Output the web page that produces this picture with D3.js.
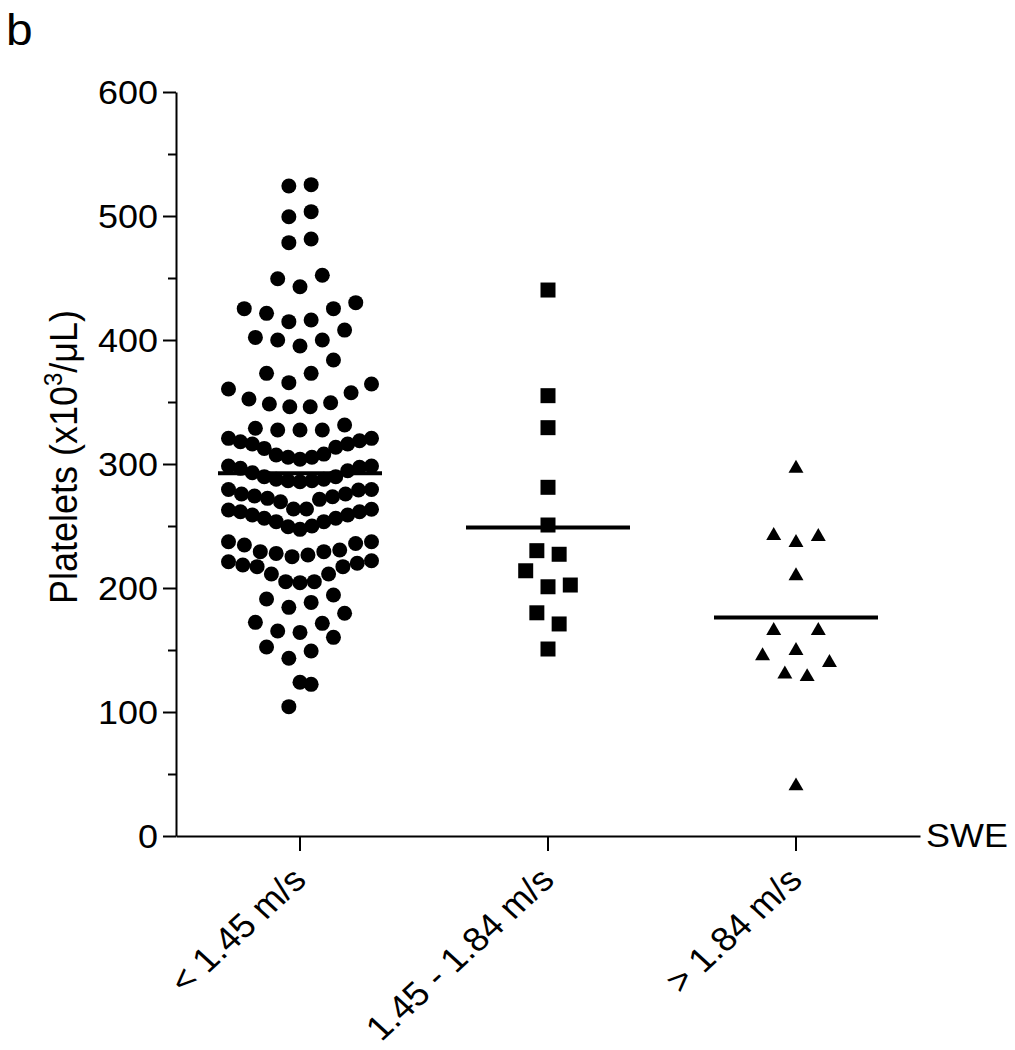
<!DOCTYPE html>
<html>
<head>
<meta charset="utf-8">
<script src="https://cdn.jsdelivr.net/npm/d3@7"></script>
<style>
  html, body { margin: 0; padding: 0; background: #fff; }
  svg { display: block; }
  text { font-family: "Liberation Sans", Arial, Helvetica, sans-serif; fill: #000; }
</style>
</head>
<body>
<svg id="chart" width="1015" height="1050"></svg>
<script>
// ---------------- data ----------------
const categories = ["< 1.45 m/s", "1.45 - 1.84 m/s", "> 1.84 m/s"];

const lowSWE = [525.3, 524.2, 503.5, 499.4, 481.5, 478.5, 452.2, 449.4, 442.9, 430.1, 425.3, 425.3,
  421.5, 416.1, 414.8, 408, 402.1, 400, 400, 395.2, 383.9, 373.1, 373.1, 365.6, 364.5, 360.5,
  357.5, 352.4, 349.4, 348.4, 346.2, 346.2, 331.5, 328.8, 327.4, 327.4, 327.4,
  320.7, 317.9, 316.1, 312.6, 308, 305.4, 303.8, 305.4, 307.3, 313.5, 316.1, 318.8, 320.7,
  298.4, 297.3, 294.6, 289.8, 287.7, 286.5, 285.7, 286.5, 287.7, 289.8, 293, 296.5, 298.4,
  279.4, 275.8, 273.6, 271.5, 269.6, 263.5, 262.9, 272.3, 274.2, 275.8, 279, 279.4,
  263.7, 261.5, 258.9, 256.2, 253.5, 250, 247.3, 249.4, 253.5, 256.2, 258.9, 261.5, 263.7,
  234.7, 229.3, 227.9, 225.3, 226.6, 229.3, 230.6, 235.9, 237.3, 237.3,
  221.2, 218.5, 217.2, 211.3, 205.1, 204.3, 205.1, 211.3, 217.2, 220, 222,
  194.4, 191.1, 188.4, 184.4, 179.6, 172.3, 171.5, 165.3, 164.2, 160.2, 152.4, 149.2, 143.3,
  124, 122.3, 104.3];

const midSWE = [440.3, 355.1, 329.3, 281.2, 250.8, 230.1, 227.2, 213.9, 201, 202.4, 180, 171, 150.8];

const highSWE = [296.5, 242.2, 241.4, 236.5, 209.7, 165.6, 165.6, 149.4, 145.2, 139.8, 130.6, 128.4, 40.3];

const groupValues = [lowSWE, midSWE, highSWE];
const groupSymbols = ["circle", "square", "triangle"];
const groupFirstSide = [-1, 1, 1];

const yTicks = [0, 100, 200, 300, 400, 500, 600];
const yMinorTicks = [50, 150, 250, 350, 450, 550];
const yLabel = { main: "Platelets (x10", sup: "3", tail: "/\u03BCL)" };
const xAxisTitle = "SWE";
const panelLetter = "b";

// ---------------- layout ----------------
const svg = d3.select("#chart");
const TEXT_STRETCH = 1.09;
const FS = 33;

const y = d3.scaleLinear().domain([0, 600]).range([836, 92]);
const x = d3.scaleBand().domain(categories).range([176, 920]).padding(0);
const cx = c => x(c) + x.bandwidth() / 2;

// Prism-like row layout: points with close values share a row,
// lowest value in the middle, increasing outwards alternately.
const ROW_SPAN_PX = 23;
const SLOT = 22.3;
const MAX_ROW_WIDTH = 143;
const MAX_PER_ROW = 13;

function rowLayout(values, side) {
  const sorted = values.slice().sort(d3.ascending);
  const rows = [];
  let cur = null;
  for (const v of sorted) {
    if (!cur || (y(cur[0]) - y(v)) > ROW_SPAN_PX || cur.length >= MAX_PER_ROW) {
      cur = [];
      rows.push(cur);
    }
    cur.push(v);
  }
  const out = [];
  rows.forEach(row => {
    const n = row.length;
    const sp = n > 1 ? Math.min(SLOT, MAX_ROW_WIDTH / (n - 1)) : 0;
    row.forEach((v, i) => {
      let k;
      if (n % 2 === 1) {
        k = i === 0 ? 0 : Math.ceil(i / 2) * (i % 2 === 1 ? side : -side);
      } else {
        k = (Math.floor(i / 2) + 0.5) * (i % 2 === 0 ? side : -side);
      }
      out.push({ value: v, dx: k * sp });
    });
  });
  return out;
}

// ---------------- axes ----------------
const yAxis = svg.append("g")
  .attr("transform", `translate(${x.range()[0]},0)`)
  .call(d3.axisLeft(y).tickValues(yTicks).tickSize(13).tickSizeOuter(0).tickFormat(d3.format("d")));
yAxis.selectAll("path, line").attr("stroke", "#000").attr("stroke-width", 2);
yAxis.selectAll("text")
  .attr("x", null).attr("dy", null)
  .attr("transform", `translate(-18,0) scale(${TEXT_STRETCH},1)`)
  .attr("dominant-baseline", "central")
  .style("font-size", FS + "px")
  .style("font-family", '"Liberation Sans", Arial, sans-serif')
  .attr("fill", "#000");

const yMinor = svg.append("g")
  .attr("transform", `translate(${x.range()[0]},0)`)
  .call(d3.axisLeft(y).tickValues(yMinorTicks).tickSize(8).tickFormat(""));
yMinor.select(".domain").remove();
yMinor.selectAll("line").attr("stroke", "#000").attr("stroke-width", 2);

const xAxis = svg.append("g")
  .attr("transform", `translate(0,${y(0)})`)
  .call(d3.axisBottom(x).tickSize(15).tickSizeOuter(0));
xAxis.selectAll("path, line").attr("stroke", "#000").attr("stroke-width", 2);
xAxis.selectAll("text").remove();

svg.append("g").selectAll("text")
  .data(categories)
  .join("text")
  .attr("transform", d => `translate(${cx(d) + 8},${882}) scale(${TEXT_STRETCH},1) rotate(-45)`)
  .attr("text-anchor", "end")
  .style("font-size", "34px")
  .text(d => d);

svg.append("text")
  .attr("transform", `translate(926,${y(0)}) scale(${TEXT_STRETCH},1)`)
  .attr("dominant-baseline", "central")
  .style("font-size", FS + "px")
  .text(xAxisTitle);

const yl = svg.append("text")
  .attr("transform", `translate(77,457) scale(${TEXT_STRETCH},1) rotate(-90)`)
  .attr("text-anchor", "middle")
  .style("font-size", "36px");
yl.append("tspan").text(yLabel.main);
yl.append("tspan").attr("dy", -14).style("font-size", "24px").text(yLabel.sup);
yl.append("tspan").attr("dy", 14).text(yLabel.tail);

svg.append("text")
  .attr("transform", `translate(6,45) scale(${TEXT_STRETCH},1)`)
  .style("font-size", "44px")
  .text(panelLetter);

// ---------------- points ----------------
const symbolTypes = {
  circle: d3.symbol().type(d3.symbolCircle).size(Math.PI * 7.5 * 7.5),
  square: d3.symbol().type(d3.symbolSquare).size(225),
  triangle: d3.symbol().type(d3.symbolTriangle).size(97)
};

categories.forEach((cat, gi) => {
  const pts = rowLayout(groupValues[gi], groupFirstSide[gi]);
  svg.append("g").selectAll("path")
    .data(pts)
    .join("path")
    .attr("d", symbolTypes[groupSymbols[gi]]())
    .attr("transform", d => `translate(${cx(cat) + d.dx},${y(d.value)})`)
    .attr("fill", "#000");

  const m = d3.mean(groupValues[gi]);
  svg.append("line")
    .attr("x1", cx(cat) - 82).attr("x2", cx(cat) + 82)
    .attr("y1", y(m)).attr("y2", y(m))
    .attr("stroke", "#000").attr("stroke-width", 4);
});
</script>
</body>
</html>
